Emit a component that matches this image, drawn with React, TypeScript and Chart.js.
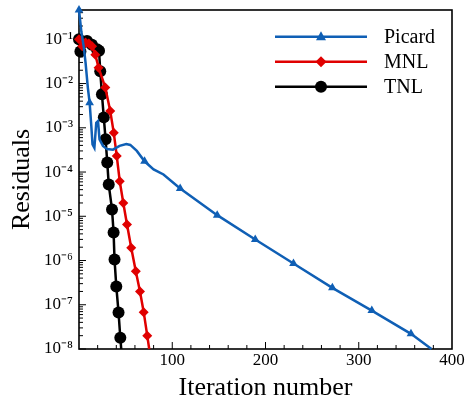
import { useEffect, useRef } from 'react';
import { Chart, registerables } from 'chart.js';

Chart.register(...registerables);

// ---- data ----
const seriesNames = ['Picard', 'MNL', 'TNL'];

const picardX = [0, 2.5, 5, 7, 9.5, 11.4, 13.2, 14.5, 16.5, 18.5, 20.4, 22, 25.7, 30, 36.4, 43.5, 50.7, 55, 62, 70.3, 80, 90.6, 108.5, 148.2, 189, 230, 271.7, 314, 356, 378];
const picardY = [0.46, 0.15, 0.07, 0.03, 8e-3, 3.7e-3, 1.1e-3, 4.2e-4, 3.5e-4, 1.3e-3, 1.42e-3, 5.5e-4, 3.9e-4, 3.3e-4, 3.2e-4, 3.9e-4, 4.3e-4, 4.1e-4, 3.0e-4, 1.75e-4, 1.15e-4, 8.8e-5, 4.25e-5, 1.06e-5, 2.99e-6, 8.55e-7, 2.41e-7, 7.4e-8, 2.2e-8, 1e-8];
const picardMarkerIdx = [0, 5, 19, 22, 23, 24, 25, 26, 27, 28];

const mnlX = [0, 3.5, 7, 10.5, 14, 17.5, 21, 28.2, 33.5, 37.3, 40.5, 43.7, 47.5, 51.5, 56, 60.9, 65.4, 69.4, 73.2, 75.3];
const mnlY = [0.1, 0.07, 0.085, 0.08, 0.07, 0.045, 0.0229, 8.1e-3, 2.39e-3, 7.7e-4, 2.29e-4, 6.2e-5, 2.0e-5, 6.5e-6, 1.94e-6, 5.7e-7, 2.0e-7, 6.8e-8, 2.0e-8, 1e-8];

const tnlX = [0, 1.5, 4.5, 8.6, 13.9, 19.3, 21.5, 22.8, 24.6, 26.6, 28.5, 30.3, 31.9, 35.4, 37.1, 38.1, 40, 42.4, 44.3, 45.3];
const tnlY = [0.1, 0.053, 0.085, 0.092, 0.075, 0.06, 0.055, 0.0189, 5.7e-3, 1.72e-3, 5.5e-4, 1.65e-4, 5.2e-5, 1.43e-5, 4.3e-6, 1.05e-6, 2.6e-7, 6.7e-8, 1.8e-8, 1e-8];

const xMajorTicks = [100, 200, 300, 400];
const xMinorStep = 20;
const yDecades = [-8, -7, -6, -5, -4, -3, -2, -1];
const xMin = 0;
const xMax = 400;
const yMin = 1e-8;
const yMax = 0.46;

// ---- helpers ----
const SUP: Record<string, string> = {
  '-': '\u207B', '0': '\u2070', '1': '\u00B9', '2': '\u00B2', '3': '\u00B3',
  '4': '\u2074', '5': '\u2075', '6': '\u2076', '7': '\u2077', '8': '\u2078', '9': '\u2079',
};
function pow10Label(e: number) {
  return '10' + String(e).split('').map((c) => SUP[c] ?? c).join('');
}

const FONT = "'Liberation Serif', 'Times New Roman', serif";
const BLUE = '#0f5fb5';
const RED = '#e00000';
const BLACK = '#000000';

function drawMarker(ctx: CanvasRenderingContext2D, style: string, x: number, y: number, r: number, color: string) {
  ctx.save();
  ctx.fillStyle = color;
  ctx.beginPath();
  if (style === 'triangle') {
    ctx.moveTo(x, y - r * 1.1);
    ctx.lineTo(x + r, y + r * 0.7);
    ctx.lineTo(x - r, y + r * 0.7);
    ctx.closePath();
  } else if (style === 'rectRot') {
    ctx.moveTo(x, y - r);
    ctx.lineTo(x + r, y);
    ctx.lineTo(x, y + r);
    ctx.lineTo(x - r, y);
    ctx.closePath();
  } else {
    ctx.arc(x, y, r, 0, Math.PI * 2);
  }
  ctx.fill();
  ctx.restore();
}

const framePlugin = {
  id: 'frameTicks',
  beforeDatasetsDraw(chart: any) {
    const { ctx, chartArea: a, scales } = chart;
    const xs = scales.x;
    const ys = scales.y;
    ctx.save();
    ctx.strokeStyle = '#000';
    ctx.lineWidth = 1;
    ctx.beginPath();
    // y ticks (inside, left)
    for (const e of yDecades) {
      const base = Math.pow(10, e);
      const py = ys.getPixelForValue(base);
      ctx.moveTo(a.left, py);
      ctx.lineTo(a.left + 7, py);
      for (let k = 2; k <= 9; k++) {
        const v = k * base;
        if (v > yMax) break;
        const pm = ys.getPixelForValue(v);
        ctx.moveTo(a.left, pm);
        ctx.lineTo(a.left + 4, pm);
      }
    }
    // x ticks (inside, bottom)
    for (let v = xMin + xMinorStep; v < xMax; v += xMinorStep) {
      const px = xs.getPixelForValue(v);
      const major = xMajorTicks.includes(v);
      ctx.moveTo(px, a.bottom);
      ctx.lineTo(px, a.bottom - (major ? 7 : 4));
    }
    ctx.stroke();
    ctx.lineWidth = 1.6;
    ctx.strokeRect(a.left, a.top, a.right - a.left, a.bottom - a.top);
    ctx.restore();
  },
  afterDatasetsDraw(chart: any) {
    const { ctx } = chart;
    const rows = [36.7, 61.7, 86.7];
    chart.data.datasets.forEach((ds: any, i: number) => {
      const y = rows[i];
      ctx.save();
      ctx.strokeStyle = ds.borderColor;
      ctx.lineWidth = 2.5;
      ctx.beginPath();
      ctx.moveTo(275, y);
      ctx.lineTo(367, y);
      ctx.stroke();
      drawMarker(ctx, ds.pointStyle, 321, y, ds.legendMarkerR, ds.borderColor);
      ctx.fillStyle = '#000';
      ctx.font = `20px ${FONT}`;
      ctx.textBaseline = 'middle';
      ctx.textAlign = 'left';
      ctx.fillText(ds.label, 384, y + 1);
      ctx.restore();
    });
  },
};

function toPoints(xs: number[], ys: number[]) {
  return xs.map((x, i) => ({ x, y: ys[i] }));
}

export default function App() {
  const canvasRef = useRef<HTMLCanvasElement | null>(null);

  useEffect(() => {
    if (!canvasRef.current) return;
    const lastIdx = (arr: number[]) => arr.length - 1;
    const chart = new Chart(canvasRef.current, {
      type: 'line',
      data: {
        datasets: [
          {
            label: seriesNames[0],
            data: toPoints(picardX, picardY),
            borderColor: BLUE,
            backgroundColor: BLUE,
            borderWidth: 2.5,
            pointStyle: 'triangle',
            pointRadius: (c: any) => (picardMarkerIdx.includes(c.dataIndex) ? 5 : 0),
            pointBorderWidth: 0,
            tension: 0,
            clip: false,
            legendMarkerR: 5,
          } as any,
          {
            label: seriesNames[1],
            data: toPoints(mnlX, mnlY),
            borderColor: RED,
            backgroundColor: RED,
            borderWidth: 2.5,
            pointStyle: 'rectRot',
            pointRadius: (c: any) => (c.dataIndex === lastIdx(mnlX) ? 0 : 5),
            pointBorderWidth: 0,
            tension: 0,
            clip: false,
            legendMarkerR: 5.5,
          } as any,
          {
            label: seriesNames[2],
            data: toPoints(tnlX, tnlY),
            borderColor: BLACK,
            backgroundColor: BLACK,
            borderWidth: 2.5,
            pointStyle: 'circle',
            pointRadius: (c: any) => (c.dataIndex === lastIdx(tnlX) ? 0 : 6),
            pointBorderWidth: 0,
            tension: 0,
            clip: false,
            legendMarkerR: 6,
          } as any,
        ],
      },
      options: {
        animation: false,
        responsive: true,
        maintainAspectRatio: false,
        layout: { padding: { top: 10, right: 16, left: 0, bottom: 0 } },
        plugins: { legend: { display: false }, tooltip: { enabled: false } },
        scales: {
          x: {
            type: 'linear',
            min: xMin,
            max: xMax,
            grid: { display: false, drawTicks: false },
            border: { display: false },
            ticks: {
              color: '#000',
              font: { family: FONT, size: 17 },
              padding: 1,
              maxRotation: 0,
              autoSkip: false,
            },
            afterBuildTicks: (s: any) => {
              s.ticks = xMajorTicks.map((v) => ({ value: v }));
            },
            afterFit: (s: any) => {
              s.height = 54;
              s.paddingLeft = 0;
              s.paddingRight = 0;
            },
            title: {
              display: true,
              text: 'Iteration number',
              color: '#000',
              font: { family: FONT, size: 26, lineHeight: 1 },
              padding: { top: 0, bottom: 2 },
            },
          },
          y: {
            type: 'logarithmic',
            min: yMin,
            max: yMax,
            bounds: 'data',
            grid: { display: false, drawTicks: false },
            border: { display: false },
            ticks: {
              color: '#000',
              font: { family: FONT, size: 17 },
              padding: 6,
              autoSkip: false,
              callback: (v: any) => pow10Label(Math.round(Math.log10(Number(v)))),
            },
            afterBuildTicks: (s: any) => {
              s.ticks = yDecades.map((e) => ({ value: Math.pow(10, e) }));
            },
            afterFit: (s: any) => {
              s.width = 79;
              s.paddingTop = 0;
              s.paddingBottom = 0;
            },
            title: {
              display: true,
              text: 'Residuals',
              color: '#000',
              font: { family: FONT, size: 26, lineHeight: 1 },
              padding: { top: 9, bottom: 0 },
            },
          },
        },
      } as any,
      plugins: [framePlugin],
    });
    return () => chart.destroy();
  }, []);

  return (
    <div style={{ position: 'fixed', left: 0, top: 0, width: 468, height: 403, background: '#fff' }}>
      <canvas ref={canvasRef} />
    </div>
  );
}
